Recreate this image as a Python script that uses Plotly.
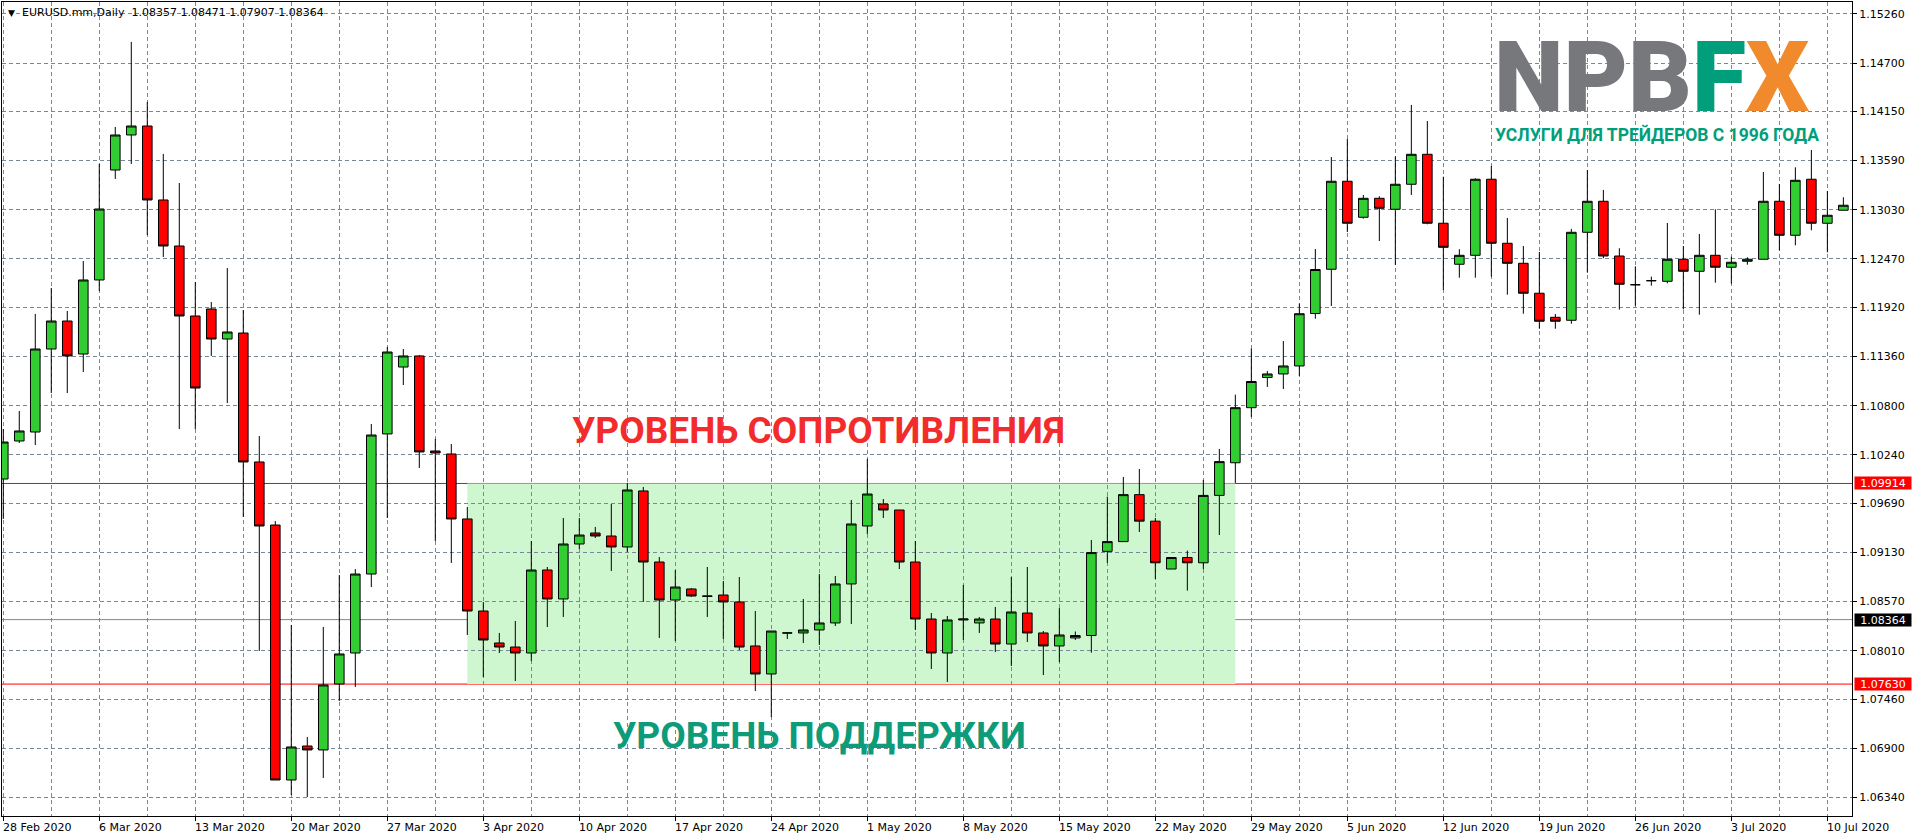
import plotly.graph_objects as go
import pandas as pd

# ---------------- data ----------------
# Daily bars (broker calendar includes Sunday sessions), 28 Feb 2020 .. 12 Jul 2020
all_days = pd.date_range("2020-02-28", "2020-07-12", freq="D")
dates = [d for d in all_days if d.weekday() != 5]

opens = [1.09965, 1.10398, 1.10500, 1.11445, 1.11764, 1.11388, 1.12231, 1.13483, 1.13882, 1.13984,
         1.13142, 1.12618, 1.11821, 1.11901, 1.11559, 1.11627, 1.10159, 1.09441, 1.06538, 1.06925,
         1.06880, 1.07631, 1.07984, 1.08883, 1.10478, 1.11240, 1.11366, 1.10284, 1.10250, 1.09510,
         1.08462, 1.08098, 1.08052, 1.07984, 1.08929, 1.08599, 1.09225, 1.09350, 1.09316, 1.09191,
         1.09829, 1.09020, 1.08587, 1.08713, 1.08633, 1.08644, 1.08565, 1.08064, 1.07745, 1.08212,
         1.08212, 1.08246, 1.08326, 1.08770, 1.09430, 1.09680, 1.09612, 1.09020, 1.08371, 1.07984,
         1.08360, 1.08326, 1.08371, 1.08086, 1.08439, 1.08212, 1.08064, 1.08155, 1.08183, 1.09141,
         1.09252, 1.09787, 1.09485, 1.08940, 1.09071, 1.09011, 1.09778, 1.10150, 1.10777, 1.11121,
         1.11161, 1.11252, 1.11849, 1.12353, 1.13355, 1.12945, 1.13161, 1.13036, 1.13321, 1.13662,
         1.12877, 1.12410, 1.12512, 1.13378, 1.12649, 1.12421, 1.12080, 1.11806, 1.11772, 1.12774,
         1.13127, 1.12504, 1.12177, 1.12223, 1.12216, 1.12467, 1.12330, 1.12512, 1.12376, 1.12444,
         1.12467, 1.13127, 1.12740, 1.13378, 1.12877, 1.13025]

highs = [1.10534, 1.10739, 1.11844, 1.12140, 1.11878, 1.12447, 1.13552, 1.13973, 1.14941, 1.14258,
         1.13666, 1.13335, 1.12208, 1.11980, 1.12368, 1.11889, 1.10455, 1.09487, 1.08303, 1.07028,
         1.08280, 1.08872, 1.08940, 1.10591, 1.11468, 1.11445, 1.11377, 1.10421, 1.10364, 1.09646,
         1.08565, 1.08212, 1.08348, 1.09259, 1.08963, 1.09521, 1.09521, 1.09419, 1.09680, 1.09920,
         1.09874, 1.09077, 1.08929, 1.08724, 1.08963, 1.08804, 1.08849, 1.08462, 1.08234, 1.08212,
         1.08599, 1.08883, 1.08861, 1.09726, 1.10193, 1.09737, 1.09612, 1.09259, 1.08439, 1.08405,
         1.08758, 1.08394, 1.08508, 1.08849, 1.08963, 1.08234, 1.08496, 1.08229, 1.09271, 1.09764,
         1.09988, 1.10079, 1.09521, 1.09071, 1.09150, 1.09954, 1.10307, 1.10926, 1.11451, 1.11195,
         1.11536, 1.11963, 1.12584, 1.13631, 1.13836, 1.13199, 1.13184, 1.13639, 1.14224, 1.14041,
         1.13407, 1.12581, 1.13389, 1.13529, 1.12937, 1.12618, 1.12550, 1.11844, 1.12812, 1.13483,
         1.13256, 1.12592, 1.12387, 1.12269, 1.12880, 1.12618, 1.12755, 1.13036, 1.12496, 1.12489,
         1.13461, 1.13324, 1.13514, 1.13711, 1.13244, 1.13173]

lows = [1.09510, 1.10375, 1.10352, 1.10944, 1.10944, 1.11183, 1.12106, 1.13381, 1.13552, 1.12743,
        1.12493, 1.10534, 1.10534, 1.11366, 1.10830, 1.09532, 1.08007, 1.06538, 1.06367, 1.06344,
        1.06561, 1.07437, 1.07597, 1.08735, 1.09521, 1.11035, 1.10090, 1.09259, 1.09009, 1.08189,
        1.07711, 1.07984, 1.07665, 1.07893, 1.08280, 1.08394, 1.09168, 1.09293, 1.08918, 1.09134,
        1.08565, 1.08155, 1.08121, 1.08622, 1.08394, 1.08143, 1.08018, 1.07551, 1.07255, 1.08143,
        1.08098, 1.08075, 1.08291, 1.08314, 1.09339, 1.09521, 1.08940, 1.08246, 1.07802, 1.07654,
        1.08132, 1.08212, 1.07995, 1.07836, 1.08109, 1.07733, 1.07881, 1.08132, 1.07987, 1.09011,
        1.09252, 1.09362, 1.08827, 1.08940, 1.08694, 1.08940, 1.09327, 1.09920, 1.10671, 1.11013,
        1.10990, 1.11138, 1.11790, 1.11935, 1.12777, 1.12929, 1.12675, 1.12402, 1.13199, 1.12865,
        1.12117, 1.12257, 1.12257, 1.12269, 1.12064, 1.11847, 1.11676, 1.11676, 1.11733, 1.12314,
        1.12478, 1.11893, 1.11938, 1.12166, 1.12193, 1.11897, 1.11836, 1.12200, 1.12189, 1.12405,
        1.12467, 1.12569, 1.12626, 1.12797, 1.12546, 1.13025]

closes = [1.10386, 1.10512, 1.11445, 1.11764, 1.11366, 1.12231, 1.13039, 1.13882, 1.13984, 1.13142,
          1.12618, 1.11821, 1.11001, 1.11559, 1.11639, 1.10159, 1.09430, 1.06538, 1.06914, 1.06880,
          1.07620, 1.07973, 1.08883, 1.10466, 1.11411, 1.11366, 1.10273, 1.10261, 1.09510, 1.08462,
          1.08132, 1.08052, 1.07984, 1.08929, 1.08599, 1.09225, 1.09327, 1.09316, 1.09191, 1.09840,
          1.09020, 1.08587, 1.08735, 1.08633, 1.08630, 1.08565, 1.08052, 1.07745, 1.08234, 1.08212,
          1.08246, 1.08326, 1.08770, 1.09453, 1.09794, 1.09612, 1.09020, 1.08371, 1.07984, 1.08360,
          1.08371, 1.08371, 1.08086, 1.08451, 1.08212, 1.08064, 1.08189, 1.08183, 1.09127, 1.09252,
          1.09787, 1.09485, 1.09011, 1.09071, 1.09011, 1.09778, 1.10163, 1.10777, 1.11075, 1.11161,
          1.11252, 1.11847, 1.12350, 1.13355, 1.12877, 1.13161, 1.13047, 1.13321, 1.13662, 1.12877,
          1.12603, 1.12512, 1.13378, 1.12649, 1.12421, 1.12080, 1.11761, 1.11761, 1.12774, 1.13127,
          1.12504, 1.12182, 1.12177, 1.12223, 1.12467, 1.12330, 1.12512, 1.12376, 1.12433, 1.12467,
          1.13127, 1.12740, 1.13366, 1.12877, 1.12968, 1.13082]

x_tick_labels = ["28 Feb 2020", "6 Mar 2020", "13 Mar 2020", "20 Mar 2020", "27 Mar 2020",
                 "3 Apr 2020", "10 Apr 2020", "17 Apr 2020", "24 Apr 2020", "1 May 2020",
                 "8 May 2020", "15 May 2020", "22 May 2020", "29 May 2020", "5 Jun 2020",
                 "12 Jun 2020", "19 Jun 2020", "26 Jun 2020", "3 Jul 2020", "10 Jul 2020"]

y_tick_values = [1.15260, 1.14700, 1.14150, 1.13590, 1.13030, 1.12470, 1.11920, 1.11360, 1.10800,
                 1.10240, 1.09690, 1.09130, 1.08570, 1.08010, 1.07460, 1.06900, 1.06340]

resistance_level = 1.09914
support_level = 1.07630
bid_level = 1.08364
zone_start = "2020-04-02"
zone_end = "2020-05-28"

header_symbol = "EURUSD.mm,Daily"
header_ohlc = [1.08357, 1.08471, 1.07907, 1.08364]

resistance_text = "УРОВЕНЬ СОПРОТИВЛЕНИЯ"
support_text = "УРОВЕНЬ ПОДДЕРЖКИ"
logo_parts = ["NPB", "F", "X"]
logo_subtitle = "УСЛУГИ ДЛЯ ТРЕЙДЕРОВ С 1996 ГОДА"

# ---------------- helpers ----------------
W, H = 1916, 840
ML, MR, MT, MB = 2, 64, 2, 24
PW, PH = W - ML - MR, H - MT - MB


def fx(px):
    return (px - ML) / PW


def fy(py):
    return 1 - (py - MT) / PH


idx = list(range(len(dates)))
labels_fmt = [f"{d.day} {d.strftime('%b %Y')}" for d in dates]
tick_idx = [labels_fmt.index(t) for t in x_tick_labels]
date_strs = [d.strftime("%Y-%m-%d") for d in dates]
z0 = date_strs.index(zone_start)
z1 = date_strs.index(zone_end)

GRID = "#778899"
DASH = "4px,3px"
AXFONT = dict(family="DejaVu Sans", size=11, color="black")
LABEL_FONT = "Roboto"

fig = go.Figure()
fig.add_trace(go.Candlestick(
    x=idx, open=opens, high=highs, low=lows, close=closes,
    increasing=dict(fillcolor="#32CD32", line=dict(color="black", width=1)),
    decreasing=dict(fillcolor="#FF0000", line=dict(color="black", width=1)),
    whiskerwidth=0, text=date_strs, hoverinfo="text+y", showlegend=False,
))

shapes = [
    dict(type="rect", xref="x", yref="y", x0=z0, x1=z1, y0=support_level, y1=resistance_level,
         fillcolor="#CFF7CF", line=dict(width=0), layer="below"),
    dict(type="line", xref="paper", yref="y", x0=0, x1=1, y0=resistance_level, y1=resistance_level,
         line=dict(color="#FF0000", width=1), layer="between"),
    dict(type="line", xref="paper", yref="y", x0=0, x1=1, y0=support_level, y1=support_level,
         line=dict(color="#FF0000", width=1), layer="between"),
    dict(type="line", xref="paper", yref="y", x0=0, x1=1, y0=bid_level, y1=bid_level,
         line=dict(color=GRID, width=1), layer="between"),
]

annotations = []
# x-axis labels, left aligned at tick position
for i, t in zip(tick_idx, x_tick_labels):
    annotations.append(dict(x=i, xref="x", y=fy(827), yref="paper", text=t, showarrow=False,
                            xanchor="left", yanchor="middle", xshift=-2, font=AXFONT))

# price tags on right axis
for val, bg in [(resistance_level, "#FF0000"), (support_level, "#FF0000"), (bid_level, "black")]:
    annotations.append(dict(x=1, xref="paper", y=val, yref="y", text=f"{val:.5f}", showarrow=False,
                            xanchor="left", yanchor="middle", xshift=2, bgcolor=bg, borderpad=0,
                            width=56, height=12, align="center",
                            font=dict(family="DejaVu Sans", size=11, color="white")))

# header
annotations.append(dict(x=fx(6), y=fy(12.5), xref="paper", yref="paper", text="▼", showarrow=False,
                        xanchor="left", yanchor="middle", font=dict(family="DejaVu Sans", size=9, color="black")))
annotations.append(dict(x=fx(20), y=fy(12.5), xref="paper", yref="paper",
                        text=header_symbol + "  " + " ".join(f"{v:.5f}" for v in header_ohlc),
                        showarrow=False, xanchor="left", yanchor="middle", font=AXFONT))

# level labels
annotations.append(dict(x=fx(818), y=fy(431), xref="paper", yref="paper", text=resistance_text,
                        showarrow=False, xanchor="center", yanchor="middle",
                        font=dict(family=LABEL_FONT, size=37, color="#F22C2C", weight="bold")))
annotations.append(dict(x=fx(819), y=fy(735), xref="paper", yref="paper", text=support_text,
                        showarrow=False, xanchor="center", yanchor="middle",
                        font=dict(family=LABEL_FONT, size=37, color="#0E9B7A", weight="bold")))

# logo (text box height trimmed to the capital letters so it does not cover the subtitle)
logo_colors = ["#77787B", "#009E7B", "#F08A2C"]
logo_html = "".join(f"<span style='color:{c}'>{p}</span>" for p, c in zip(logo_parts, logo_colors))
annotations.append(dict(x=fx(1492), y=fy(77), xref="paper", yref="paper", text=logo_html,
                        showarrow=False, xanchor="left", yanchor="middle", height=82, valign="middle",
                        font=dict(family="Roboto", size=99, weight=900)))
annotations.append(dict(x=fx(1493), y=fy(134), xref="paper", yref="paper", text=logo_subtitle,
                        showarrow=False, xanchor="left", yanchor="middle",
                        font=dict(family=LABEL_FONT, size=17.5, color="#009E7B", weight="bold")))

fig.update_layout(
    width=W, height=H,
    margin=dict(l=ML, r=MR, t=MT, b=MB, pad=0),
    paper_bgcolor="white", plot_bgcolor="white",
    showlegend=False, boxgap=0.4, boxgroupgap=0,
    font=AXFONT,
    shapes=shapes, annotations=annotations,
    hovermode="closest",
)

fig.update_xaxes(
    range=[-0.08, 115.54], rangeslider_visible=False,
    showline=True, linecolor="black", linewidth=1, mirror=True,
    tickmode="array", tickvals=tick_idx, showticklabels=False,
    ticks="outside", ticklen=4, tickcolor="black", tickwidth=1,
    showgrid=True, gridcolor=GRID, gridwidth=1, griddash=DASH,
    minor=dict(tickvals=[i + 3 for i in tick_idx], showgrid=True, gridcolor=GRID,
               gridwidth=1, griddash=DASH, ticks=""),
    zeroline=False, fixedrange=True,
)
fig.update_yaxes(
    side="right", range=[1.06128, 1.15396],
    showline=True, linecolor="black", linewidth=1, mirror=True,
    tickmode="array", tickvals=y_tick_values, ticktext=[f"{v:.5f}" for v in y_tick_values],
    ticks="outside", ticklen=4, tickcolor="black", tickwidth=1,
    tickfont=AXFONT,
    showgrid=True, gridcolor=GRID, gridwidth=1, griddash=DASH,
    zeroline=False, fixedrange=True,
)

fig.write_html("out.html", config={"displayModeBar": False},
               post_script="document.body.style.margin='0';document.body.style.overflow='hidden';")
